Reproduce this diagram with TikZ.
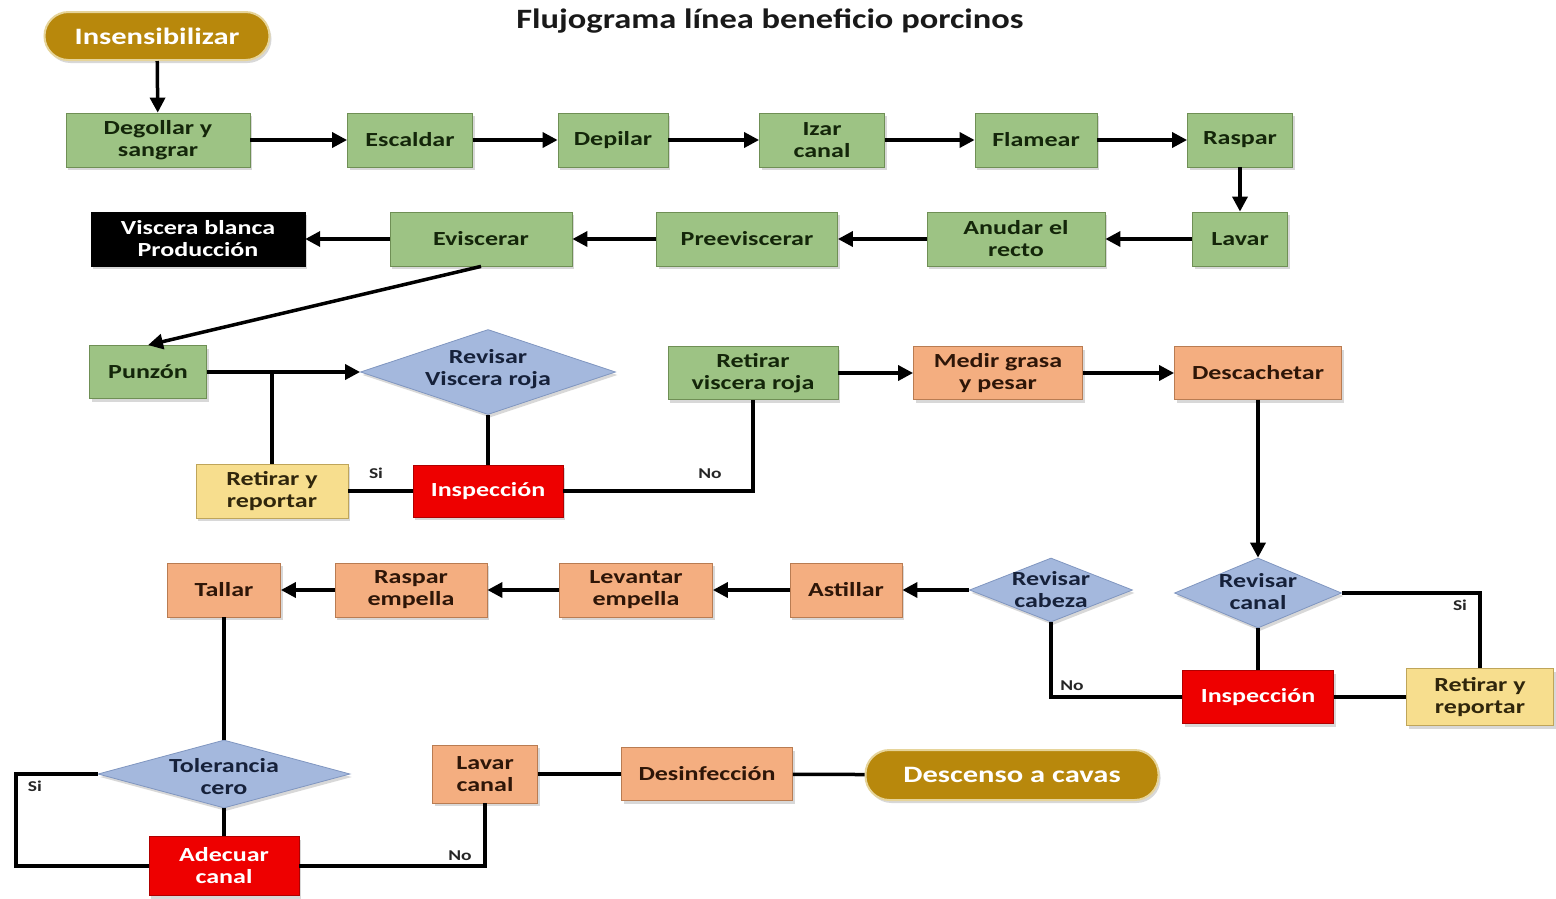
\documentclass[tikz,border=0pt]{standalone}
\usepackage{fontspec}
\setmainfont{Carlito}[FakeStretch=1.3]
\newfontfamily\titlefont{Carlito}[FakeStretch=1.23]
\usetikzlibrary{shapes.geometric,arrows.meta,shadows}
\definecolor{gfill}{HTML}{9DC384}
\definecolor{gdraw}{HTML}{6F8F55}
\definecolor{gtext}{HTML}{14260A}
\definecolor{ofill}{HTML}{F4AE80}
\definecolor{odraw}{HTML}{B97C52}
\definecolor{otext}{HTML}{2E1608}
\definecolor{yfill}{HTML}{F7DE8E}
\definecolor{ydraw}{HTML}{BFA55A}
\definecolor{ytext}{HTML}{30260C}
\definecolor{rfill}{HTML}{EE0000}
\definecolor{rdraw}{HTML}{B00000}
\definecolor{bfill}{HTML}{A4B8DD}
\definecolor{bdraw}{HTML}{8096C0}
\definecolor{btext}{HTML}{16213A}
\definecolor{gold}{HTML}{B8880C}
\definecolor{golddraw}{HTML}{E6D49A}
\tikzset{
  box/.style={rectangle, inner sep=0pt, align=center,
    font=\bfseries\fontsize{20}{22}\selectfont,
    drop shadow={opacity=0.3, shadow xshift=2pt, shadow yshift=-3pt}},
  gbox/.style={box, fill=gfill, draw=gdraw, line width=0.8pt, text=gtext},
  obox/.style={box, fill=ofill, draw=odraw, line width=0.8pt, text=otext},
  ybox/.style={box, fill=yfill, draw=ydraw, line width=0.8pt, text=ytext},
  rbox/.style={box, fill=rfill, draw=rdraw, line width=0.8pt, text=white},
  kbox/.style={box, fill=black, draw=black, text=white},
  term/.style={box, rounded corners=24pt, fill=gold, draw=golddraw, line width=2pt, text=white,
    font=\bfseries\fontsize{23.5}{25}\selectfont},
  dia/.style={diamond, inner sep=0pt, fill=bfill, draw=bdraw, line width=0.8pt,
    drop shadow={opacity=0.3, shadow xshift=2pt, shadow yshift=-3pt}},
  dtext/.style={align=center, inner sep=0pt, text=btext, font=\bfseries\fontsize{20}{22}\selectfont},
  lbl/.style={inner sep=0pt, font=\bfseries\fontsize{15}{17}\selectfont, text=black!85},
  conn/.style={line width=3.5pt, draw=black},
  arr/.style={conn, -{Triangle[length=15pt,width=15pt]}},
}
\begin{document}
\begin{tikzpicture}[x=1pt,y=-1pt]
\useasboundingbox[fill=white] (0,0) rectangle (1556,898);
\node[text=black!90] (title) at (770,21) {\titlefont\bfseries\fontsize{28}{30}\selectfont Flujograma línea beneficio porcinos};

\node[term, minimum width=225, minimum height=48] (ins) at (157,36) {Insensibilizar};
% row 1
\node[gbox, minimum width=184, minimum height=54] (deg) at (158,140) {Degollar y\\sangrar};
\node[gbox, minimum width=125, minimum height=54] (esc) at (410,140) {Escaldar};
\node[gbox, minimum width=110, minimum height=54] (dep) at (613,140) {Depilar};
\node[gbox, minimum width=125, minimum height=54] (izar) at (822,140) {Izar\\canal};
\node[gbox, minimum width=122, minimum height=54] (flam) at (1036,140) {Flamear};
\node[gbox, minimum width=105, minimum height=54] (rasp) at (1240,140) {Raspar};
% row 2
\node[kbox, minimum width=214, minimum height=54] (vis) at (198,239) {Viscera blanca\\Producción};
\node[gbox, minimum width=182, minimum height=54] (evis) at (481,239) {Eviscerar};
\node[gbox, minimum width=181, minimum height=54] (pree) at (747,239) {Preeviscerar};
\node[gbox, minimum width=178, minimum height=54] (anud) at (1016,239) {Anudar el\\recto};
\node[gbox, minimum width=95, minimum height=54] (lav) at (1240,239) {Lavar};
% row 3
\node[gbox, minimum width=117, minimum height=53] (pun) at (148,372) {Punzón};
\node[dia, minimum width=255, minimum height=85] (revvr) at (488,372) {};
\node[dtext] (revvrt) at (488,369) {Revisar\\Viscera roja};
\node[gbox, minimum width=170, minimum height=53] (retvr) at (753,373) {Retirar\\viscera roja};
\node[obox, minimum width=169, minimum height=53] (med) at (998,373) {Medir grasa\\y pesar};
\node[obox, minimum width=167, minimum height=53] (desc) at (1258,373) {Descachetar};
% row 4
\node[ybox, minimum width=152, minimum height=54] (ret1) at (272,491) {Retirar y\\reportar};
\node[rbox, minimum width=150, minimum height=52] (insp1) at (488,491) {Inspección};
% row 5
\node[obox, minimum width=113, minimum height=54] (tall) at (224,590) {Tallar};
\node[obox, minimum width=152, minimum height=54] (raspe) at (411,590) {Raspar\\empella};
\node[obox, minimum width=153, minimum height=54] (lev) at (636,590) {Levantar\\empella};
\node[obox, minimum width=112, minimum height=54] (ast) at (846,590) {Astillar};
\node[dia, minimum width=163, minimum height=64] (revcab) at (1051,590) {};
\node[dtext] (revcabt) at (1051,590) {Revisar\\cabeza};
\node[dia, minimum width=167, minimum height=70] (revcan) at (1258,593) {};
\node[dtext] (revcant) at (1258,592) {Revisar\\canal};
% row 6
\node[rbox, minimum width=151, minimum height=53] (insp2) at (1258,697) {Inspección};
\node[ybox, minimum width=147, minimum height=57] (ret2) at (1480,697) {Retirar y\\reportar};
% row 7
\node[dia, minimum width=252, minimum height=68] (tol) at (224,774) {};
\node[dtext] (tolt) at (224,777) {Tolerancia\\cero};
\node[obox, minimum width=105, minimum height=58] (lavc) at (485,774) {Lavar\\canal};
\node[obox, minimum width=171, minimum height=53] (desi) at (707,774) {Desinfección};
\node[term, minimum width=293, minimum height=50] (desce) at (1012,775) {Descenso a cavas};
\node[rbox, minimum width=150, minimum height=59] (adec) at (224,866) {Adecuar\\canal};

% labels
\node[lbl] (si1) at (376,473) {Si};
\node[lbl] (no1) at (710,474) {No};
\node[lbl] (si2) at (1460,605) {Si};
\node[lbl] (no2) at (1072,686) {No};
\node[lbl] (si3) at (35,786) {Si};
\node[lbl] (no3) at (460,856) {No};

% coordinates
\coordinate (j1) at (ret1.north |- pun.east);
\coordinate (c1) at (16,774);

% connectors
\draw[arr] (ins) -- (deg);
\draw[arr] (deg) -- (esc);
\draw[arr] (esc) -- (dep);
\draw[arr] (dep) -- (izar);
\draw[arr] (izar) -- (flam);
\draw[arr] (flam) -- (rasp);
\draw[arr] (rasp) -- (lav);
\draw[arr] (lav) -- (anud);
\draw[arr] (anud) -- (pree);
\draw[arr] (pree) -- (evis);
\draw[arr] (evis) -- (vis);
\draw[arr] (evis.south) -- (pun.north);
\draw[arr] (pun.east) -- (revvr.west);
\draw[conn] (ret1.north) -- (j1);
\draw[conn] (ret1.east) -- (insp1.west);
\draw[conn] (revvr.south) -- (insp1.north);
\draw[conn] (insp1.east) -| (retvr.south);
\draw[arr] (retvr) -- (med);
\draw[arr] (med) -- (desc);
\draw[arr] (desc.south) -- (revcan.north);
\draw[conn] (revcan.east) -| (ret2.north);
\draw[conn] (revcan.south) -- (insp2.north);
\draw[conn] (insp2.east) -- (ret2.west);
\draw[conn] (insp2.west) -| (revcab.south);
\draw[arr] (revcab.west) -- (ast.east);
\draw[arr] (ast) -- (lev);
\draw[arr] (lev) -- (raspe);
\draw[arr] (raspe) -- (tall);
\draw[conn] (tall.south) -- (tol.north);
\draw[conn] (tol.west) -- (c1) |- (adec.west);
\draw[conn] (tol.south) -- (adec.north);
\draw[conn] (adec.east) -| (lavc.south);
\draw[conn] (lavc) -- (desi);
\draw[conn] (desi) -- (desce);
\end{tikzpicture}
\end{document}
